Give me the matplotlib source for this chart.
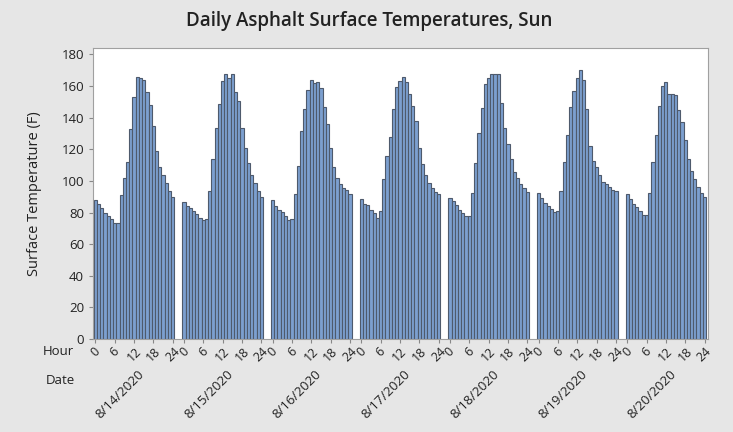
import numpy as np
import matplotlib
matplotlib.use('Agg')
import matplotlib.pyplot as plt
import matplotlib.transforms as mtransforms

plt.rcParams['font.family'] = ['Open Sans', 'DejaVu Sans']

# Fechas y horas
fechas = ['8/14/2020', '8/15/2020', '8/16/2020', '8/17/2020',
          '8/18/2020', '8/19/2020', '8/20/2020']
horas = list(range(25))
horas_ticks = [0, 6, 12, 18, 24]

# Temperaturas de superficie (F), una lista por dia, horas 0..24
dia_14 = [88.2, 85.1, 82.6, 79.4, 77.7, 75.6, 73.5, 73.5, 91.0, 102.1, 112.0, 132.5, 152.7,
          165.7, 165.1, 163.6, 156.2, 147.8, 134.6, 118.8, 108.8, 103.6, 98.4, 93.7, 89.9]
dia_15 = [86.7, 84.2, 82.6, 81.0, 79.0, 76.6, 75.2, 75.6, 93.7, 114.1, 133.1, 148.5, 163.2,
          167.8, 165.1, 167.4, 156.2, 150.5, 133.1, 120.5, 111.0, 103.6, 98.4, 93.7, 89.5]
dia_16 = [87.8, 84.2, 81.9, 80.4, 77.9, 75.2, 76.2, 91.6, 109.5, 131.6, 145.3, 157.3, 163.6,
          161.9, 162.6, 158.4, 146.7, 136.2, 120.5, 108.9, 102.1, 98.3, 95.8, 94.1, 92.0]
dia_17 = [88.4, 85.7, 84.6, 81.9, 79.8, 76.6, 81.0, 100.9, 115.6, 127.8, 145.3, 159.4, 163.2,
          165.7, 162.5, 154.8, 147.4, 137.7, 120.5, 110.5, 103.6, 98.8, 95.8, 93.1, 91.6]
dia_18 = [89.3, 87.2, 84.6, 81.9, 79.8, 77.9, 77.9, 92.6, 111.6, 130.3, 146.1, 161.5, 165.1,
          167.8, 167.8, 167.8, 149.5, 133.7, 123.2, 113.7, 105.7, 101.9, 97.9, 95.2, 93.1]
dia_19 = [92.4, 88.9, 86.1, 84.0, 82.5, 80.4, 81.0, 93.7, 112.0, 129.3, 146.8, 156.9, 164.7,
          170.3, 164.0, 145.3, 121.9, 112.7, 108.9, 103.6, 99.4, 97.9, 96.2, 94.5, 93.7]
dia_20 = [91.6, 88.4, 85.7, 83.6, 81.0, 78.3, 78.3, 92.4, 112.0, 129.3, 147.2, 160.0, 162.6,
          155.2, 154.6, 154.1, 145.1, 137.3, 125.7, 113.7, 106.1, 100.9, 96.2, 92.4, 89.5]
dias = [dia_14, dia_15, dia_16, dia_17, dia_18, dia_19, dia_20]

paso_dia = 27.5  # separacion entre bloques de dias (en horas)

fig = plt.figure(figsize=(7.33, 4.32), dpi=100, facecolor='#e6e6e6')
ax = fig.add_axes([0.127, 0.215, 0.839, 0.674])
ax.set_facecolor('white')

ticks_x = []
labels_x = []
for i, temps in enumerate(dias):
    x = i * paso_dia + np.array(horas)
    ax.bar(x, temps, width=1.0, color='#7c9fcf', edgecolor='#4e5a6c', linewidth=0.8)
    for h in horas_ticks:
        ticks_x.append(i * paso_dia + h)
        labels_x.append(str(h))

ax.set_xlim(-0.7, 6 * paso_dia + 25.1)
ax.set_ylim(0, 184)
ax.set_yticks(range(0, 181, 20))
ax.set_xticks(ticks_x)
ax.set_xticklabels(labels_x, rotation=45, ha='center', fontsize=9, color='#222222')
ax.tick_params(axis='y', labelsize=9.5, colors='#222222', length=3, color='#888888')
ax.tick_params(axis='x', length=3, color='#888888', pad=1)
for s in ax.spines.values():
    s.set_color('#a0a0a0')
    s.set_linewidth(0.8)

ax.set_ylabel('Surface Temperature (F)', fontsize=10.5, color='#222222', labelpad=14)

# Etiquetas de fecha debajo de cada dia
trans = mtransforms.blended_transform_factory(ax.transData, ax.transAxes)
for i, f in enumerate(fechas):
    ax.text(i * paso_dia + 14.5, -0.115, f, transform=trans, rotation=45,
            rotation_mode='anchor', ha='right', va='center', fontsize=9.5, color='#222222')

fig.text(0.079, 0.187, 'Hour', fontsize=9.5, color='#222222', ha='center', va='center')
fig.text(0.082, 0.12, 'Date', fontsize=9.5, color='#222222', ha='center', va='center')

fig.text(0.503, 0.952, 'Daily Asphalt Surface Temperatures, Sun', fontsize=13.5,
         fontweight='semibold', color='#222222', ha='center', va='center')

fig.savefig('out.png', dpi=100, facecolor=fig.get_facecolor())
